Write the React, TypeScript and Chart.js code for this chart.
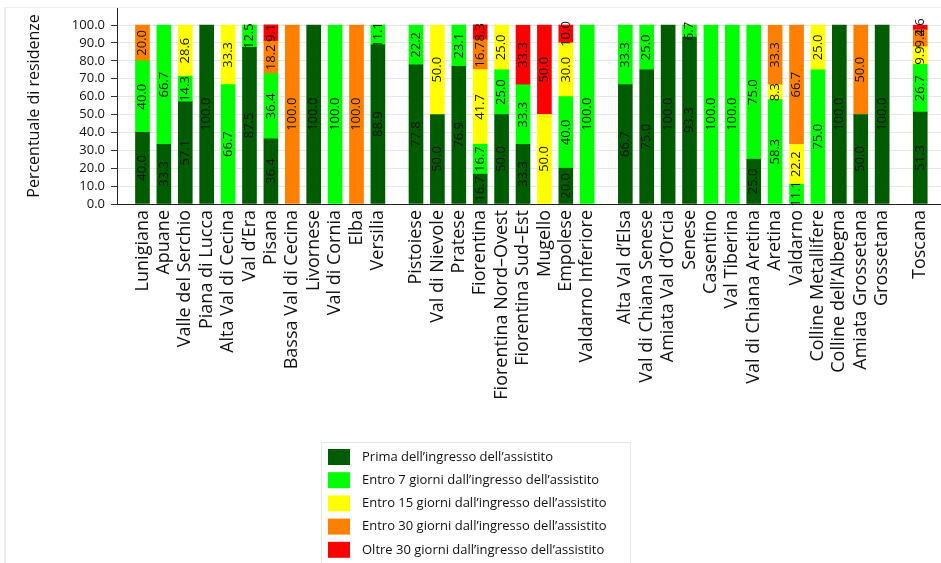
import React, { useEffect, useRef } from "react";
import { Chart, registerables } from "chart.js";

Chart.register(...registerables);

const FONT = "'Open Sans', 'Noto Sans', sans-serif";

// Categories (zones) and the group each belongs to
const categories = [
  "Lunigiana", "Apuane", "Valle del Serchio", "Piana di Lucca", "Alta Val di Cecina", "Val d’Era",
  "Pisana", "Bassa Val di Cecina", "Livornese", "Val di Cornia", "Elba", "Versilia",
  "Pistoiese", "Val di Nievole", "Pratese", "Fiorentina", "Fiorentina Nord–Ovest", "Fiorentina Sud–Est",
  "Mugello", "Empolese", "Valdarno Inferiore",
  "Alta Val d’Elsa", "Val di Chiana Senese", "Amiata Val d’Orcia", "Senese", "Casentino", "Val Tiberina",
  "Val di Chiana Aretina", "Aretina", "Valdarno", "Colline Metallifere", "Colline dell’Albegna",
  "Amiata Grossetana", "Grossetana",
  "Toscana",
];
const groupSizes = [12, 9, 13, 1];

const seriesLabels = [
  "Prima dell’ingresso dell’assistito",
  "Entro 7 giorni dall’ingresso dell’assistito",
  "Entro 15 giorni dall’ingresso dell’assistito",
  "Entro 30 giorni dall’ingresso dell’assistito",
  "Oltre 30 giorni dall’ingresso dell’assistito",
];
const seriesColors = ["#005c00", "#00ff00", "#ffff00", "#ff8000", "#ff0000"];

const prima = [40, 33.3, 57.1, 100, 0, 87.5, 36.4, 0, 100, 0, 0, 88.9, 77.8, 50, 76.9, 16.7, 50, 33.3, 0, 20, 0, 66.7, 75, 100, 93.3, 0, 0, 25, 0, 0, 0, 100, 50, 100, 51.3];
const entro7 = [40, 66.7, 14.3, 0, 66.7, 12.5, 36.4, 0, 0, 100, 0, 11.1, 22.2, 0, 23.1, 16.7, 25, 33.3, 0, 40, 100, 33.3, 25, 0, 6.7, 100, 100, 75, 58.3, 11.1, 75, 0, 0, 0, 26.7];
const entro15 = [0, 0, 28.6, 0, 33.3, 0, 0, 0, 0, 0, 0, 0, 0, 50, 0, 41.7, 25, 0, 50, 30, 0, 0, 0, 0, 0, 0, 0, 0, 8.3, 22.2, 25, 0, 0, 0, 9.9];
const entro30 = [20, 0, 0, 0, 0, 0, 18.2, 100, 0, 0, 100, 0, 0, 0, 0, 16.7, 0, 0, 0, 0, 0, 0, 0, 0, 0, 0, 0, 0, 33.3, 66.7, 0, 0, 50, 0, 9.4];
const oltre30 = [0, 0, 0, 0, 0, 0, 9.1, 0, 0, 0, 0, 0, 0, 0, 0, 8.3, 0, 33.3, 50, 10, 0, 0, 0, 0, 0, 0, 0, 0, 0, 0, 0, 0, 0, 0, 2.6];

const seriesData = [prima, entro7, entro15, entro30, oltre30];
const yTicks = [0, 10, 20, 30, 40, 50, 60, 70, 80, 90, 100];

const GROUP_GAP = 0.78;
const positions: number[] = (() => {
  const out: number[] = [];
  let idx = 0;
  groupSizes.forEach((n, g) => {
    for (let k = 0; k < n; k++) {
      out.push(idx + g * GROUP_GAP);
      idx++;
    }
  });
  return out;
})();

const framePlugin = {
  id: "frame",
  beforeDraw(chart: any) {
    const ctx = chart.ctx;
    ctx.save();
    ctx.fillStyle = "#ffffff";
    ctx.fillRect(0, 0, chart.width, chart.height);
    ctx.fillStyle = "#eaeeee";
    ctx.fillRect(4, 7, 2, chart.height - 7);
    ctx.fillRect(4, 7, chart.width - 4, 1);
    ctx.restore();
  },
};

const labelsPlugin = {
  id: "barLabels",
  afterDatasetsDraw(chart: any) {
    const ctx = chart.ctx;
    ctx.save();
    ctx.font = `13px ${FONT}`;
    ctx.fillStyle = "#111";
    ctx.textAlign = "center";
    ctx.textBaseline = "middle";
    chart.data.datasets.forEach((ds: any, i: number) => {
      const meta = chart.getDatasetMeta(i);
      meta.data.forEach((bar: any, j: number) => {
        const v = seriesData[i][j];
        if (!v) return;
        const p = bar.getProps(["x", "y", "base"], true);
        const cy = (p.y + p.base) / 2;
        ctx.save();
        ctx.translate(p.x, cy);
        ctx.rotate(-Math.PI / 2);
        ctx.fillText(v.toFixed(1), 0, 0);
        ctx.restore();
      });
    });
    ctx.restore();
  },
};

const legendPlugin = {
  id: "customLegend",
  afterDraw(chart: any) {
    const ctx = chart.ctx;
    ctx.save();
    ctx.strokeStyle = "#e3e9e9";
    ctx.lineWidth = 1;
    ctx.strokeRect(321.5, 442.5, 309, 140);
    ctx.font = `13px ${FONT}`;
    ctx.textAlign = "left";
    ctx.textBaseline = "middle";
    seriesLabels.forEach((lab, k) => {
      const y = 449 + k * 23.2;
      ctx.fillStyle = seriesColors[k];
      ctx.fillRect(328, y, 22, 16);
      ctx.fillStyle = "#111";
      ctx.fillText(lab, 362, y + 8);
    });
    ctx.restore();
  },
};

export default function App() {
  const ref = useRef<HTMLCanvasElement>(null);
  useEffect(() => {
    const canvas = ref.current!;
    const datasets = seriesData.map((arr, k) => ({
      label: seriesLabels[k],
      data: arr.map((v, i) => ({ x: positions[i], y: v > 0 ? v : null })),
      backgroundColor: seriesColors[k],
      borderWidth: 0,
      barThickness: 14,
    }));
    const chart = new Chart(canvas, {
      type: "bar",
      data: { datasets } as any,
      options: {
        responsive: false,
        animation: false,
        layout: { padding: { left: 0, right: 0, top: 8, bottom: 0 } },
        plugins: {
          legend: { display: false },
          tooltip: { enabled: false },
          title: { display: false },
        },
        scales: {
          x: {
            type: "linear",
            stacked: true,
            offset: false,
            min: -1.19,
            max: 37.31,
            grid: { display: false, drawTicks: false, offset: false },
            border: { display: true, color: "#222", width: 1 },
            afterBuildTicks: (s: any) => {
              s.ticks = positions.map((v) => ({ value: v }));
            },
            afterFit: (s: any) => {
              s.height = 359;
              s.paddingLeft = 0;
              s.paddingRight = 0;
            },
            ticks: {
              autoSkip: false,
              minRotation: 90,
              maxRotation: 90,
              padding: 6,
              color: "#111",
              font: { family: FONT, size: 18 },
              callback: (_v: any, i: number) => categories[i],
            },
          },
          y: {
            type: "linear",
            stacked: true,
            min: 0,
            max: 109.5,
            afterBuildTicks: (s: any) => {
              s.ticks = yTicks.map((v) => ({ value: v }));
            },
            afterFit: (s: any) => {
              s.width = 117;
              s.paddingTop = 0;
              s.paddingBottom = 0;
            },
            grid: { color: "#e6e6e6", tickColor: "#333", tickLength: 6 },
            border: { display: true, color: "#222", width: 1 },
            ticks: {
              padding: 6,
              color: "#111",
              font: { family: FONT, size: 13 },
              callback: (v: any) => Number(v).toFixed(1),
            },
            title: {
              display: true,
              text: "Percentuale di residenze",
              color: "#111",
              font: { family: FONT, size: 16 },
              padding: { top: 25, bottom: 0 },
            },
          },
        },
      } as any,
      plugins: [framePlugin, labelsPlugin, legendPlugin],
    });
    return () => chart.destroy();
  }, []);
  return (
    <div style={{ position: "absolute", left: 0, top: 0, width: 941, height: 563, background: "#fff" }}>
      <canvas ref={ref} width={941} height={563} style={{ display: "block", width: 941, height: 563 }} />
    </div>
  );
}
